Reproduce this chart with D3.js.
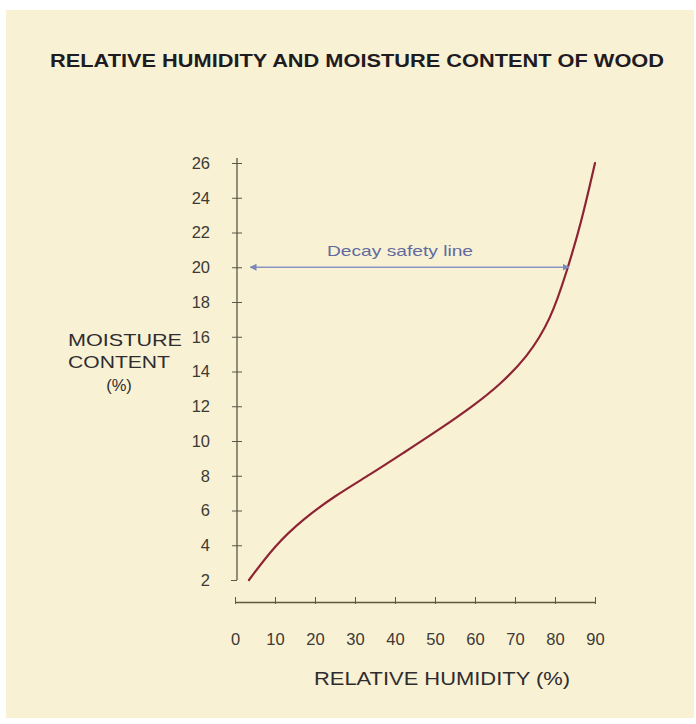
<!DOCTYPE html>
<html>
<head>
<meta charset="utf-8">
<script src="https://cdn.jsdelivr.net/npm/d3@7"></script>
<style>
  body { margin: 0; background: #fff; }
  text { font-family: "Liberation Sans", Arial, sans-serif; }
</style>
</head>
<body>
<div id="wrapper"></div>
<script>
// curve
var humidity = [3.5, 10, 17, 25, 34, 42, 51, 60, 66, 73, 79, 83, 86.5, 90];
var moisture = [2, 4.0, 5.5, 6.85, 8.1, 9.3, 10.65, 12.1, 13.2, 14.8, 17.0, 19.8, 22.5, 26];
var xTicks = [0, 10, 20, 30, 40, 50, 60, 70, 80, 90];
var yTicks = [2, 4, 6, 8, 10, 12, 14, 16, 18, 20, 22, 24, 26];
var decayLevel = 20;
var decayEnd = 83.5;

const dimension = {
    width: 696,
    height: 724,
    margin: { top: 163, right: 104, bottom: 122, left: 235 }
}

const svg = d3.select("#wrapper")
    .append("svg")
    .attr("width", dimension.width)
    .attr("height", dimension.height);

// paper background
svg.append("rect")
    .attr("x", 6).attr("y", 10)
    .attr("width", 688).attr("height", 708)
    .attr("fill", "#f9f1d3");

var x = d3.scaleLinear()
    .domain([0, 90])
    .range([dimension.margin.left, dimension.width - dimension.margin.right + 3]);

var y = d3.scaleLinear()
    .domain([2, 26])
    .range([580, dimension.margin.top]);

const axisColor = "#5a5648";

// Y axis
var yAxis = svg.append("g")
    .attr("transform", "translate(237,0)")
    .call(d3.axisLeft(y).tickValues(yTicks).tickSizeOuter(0).tickPadding(21));
yAxis.select(".domain")
    .attr("d", "M0," + (y(26) - 5) + "V" + y(2))
    .attr("stroke", axisColor).attr("stroke-width", 1.3);
yAxis.selectAll(".tick line")
    .attr("x1", d => d === 2 ? -6 : -5)
    .attr("x2", d => d === 2 ? 0 : 5)
    .attr("stroke", axisColor);
yAxis.selectAll(".tick text")
    .style("font-size", "16.5px")
    .attr("fill", "#3c3a36");

// X axis
var xAxis = svg.append("g")
    .attr("transform", "translate(0,602)")
    .call(d3.axisBottom(x).tickValues(xTicks).tickSizeOuter(0).tickPadding(25));
xAxis.select(".domain")
    .attr("stroke", "#5f5a40").attr("stroke-width", 1.6);
xAxis.selectAll(".tick line")
    .attr("y1", -5).attr("y2", 2)
    .attr("stroke", axisColor);
xAxis.selectAll(".tick text")
    .style("font-size", "16.5px")
    .attr("fill", "#3c3a36");

// the curve
var points = humidity.map((h, i) => ({ x: h, y: moisture[i] }));
var line = d3.line()
    .x(d => x(d.x))
    .y(d => y(d.y))
    .curve(d3.curveBasis);

svg.append("path")
    .datum(points)
    .attr("d", line)
    .attr("fill", "none")
    .attr("stroke", "#8e2433")
    .attr("stroke-width", 2.2)
    .attr("stroke-linecap", "round");

// decay safety line with arrows
var defs = svg.append("defs");
defs.append("marker")
    .attr("id", "arrowEnd")
    .attr("viewBox", "0 0 10 10")
    .attr("refX", 9).attr("refY", 5)
    .attr("markerWidth", 7).attr("markerHeight", 7)
    .attr("markerUnits", "userSpaceOnUse")
    .attr("orient", "auto-start-reverse")
    .append("path")
    .attr("d", "M0,0L10,5L0,10Z")
    .attr("fill", "#7c88b8");

svg.append("line")
    .attr("x1", x(3.8)).attr("x2", x(decayEnd))
    .attr("y1", y(decayLevel)).attr("y2", y(decayLevel))
    .attr("stroke", "#8896c4")
    .attr("stroke-width", 1.5)
    .attr("marker-start", "url(#arrowEnd)")
    .attr("marker-end", "url(#arrowEnd)");

svg.append("text")
    .attr("x", 400).attr("y", 256)
    .attr("text-anchor", "middle")
    .attr("textLength", 146)
    .attr("lengthAdjust", "spacingAndGlyphs")
    .attr("font-size", 15)
    .attr("fill", "#616aa0")
    .text("Decay safety line");

// title
svg.append("text")
    .attr("x", 50).attr("y", 67)
    .attr("textLength", 614)
    .attr("lengthAdjust", "spacingAndGlyphs")
    .attr("font-size", 17.5)
    .attr("font-weight", "bold")
    .attr("fill", "#1e1c22")
    .text("RELATIVE HUMIDITY AND MOISTURE CONTENT OF WOOD");

// y label
var yLab = svg.append("g").attr("fill", "#2e2c30").attr("font-size", 16.5);
yLab.append("text").attr("x", 68).attr("y", 346).attr("textLength", 114)
    .attr("lengthAdjust", "spacingAndGlyphs").text("MOISTURE");
yLab.append("text").attr("x", 68).attr("y", 368).attr("textLength", 102)
    .attr("lengthAdjust", "spacingAndGlyphs").text("CONTENT");
yLab.append("text").attr("x", 119).attr("y", 391).attr("text-anchor", "middle").text("(%)");

// x label
svg.append("text")
    .attr("x", 314).attr("y", 685)
    .attr("textLength", 256)
    .attr("lengthAdjust", "spacingAndGlyphs")
    .attr("font-size", 18)
    .attr("fill", "#2e2c30")
    .text("RELATIVE HUMIDITY (%)");
</script>
</body>
</html>
